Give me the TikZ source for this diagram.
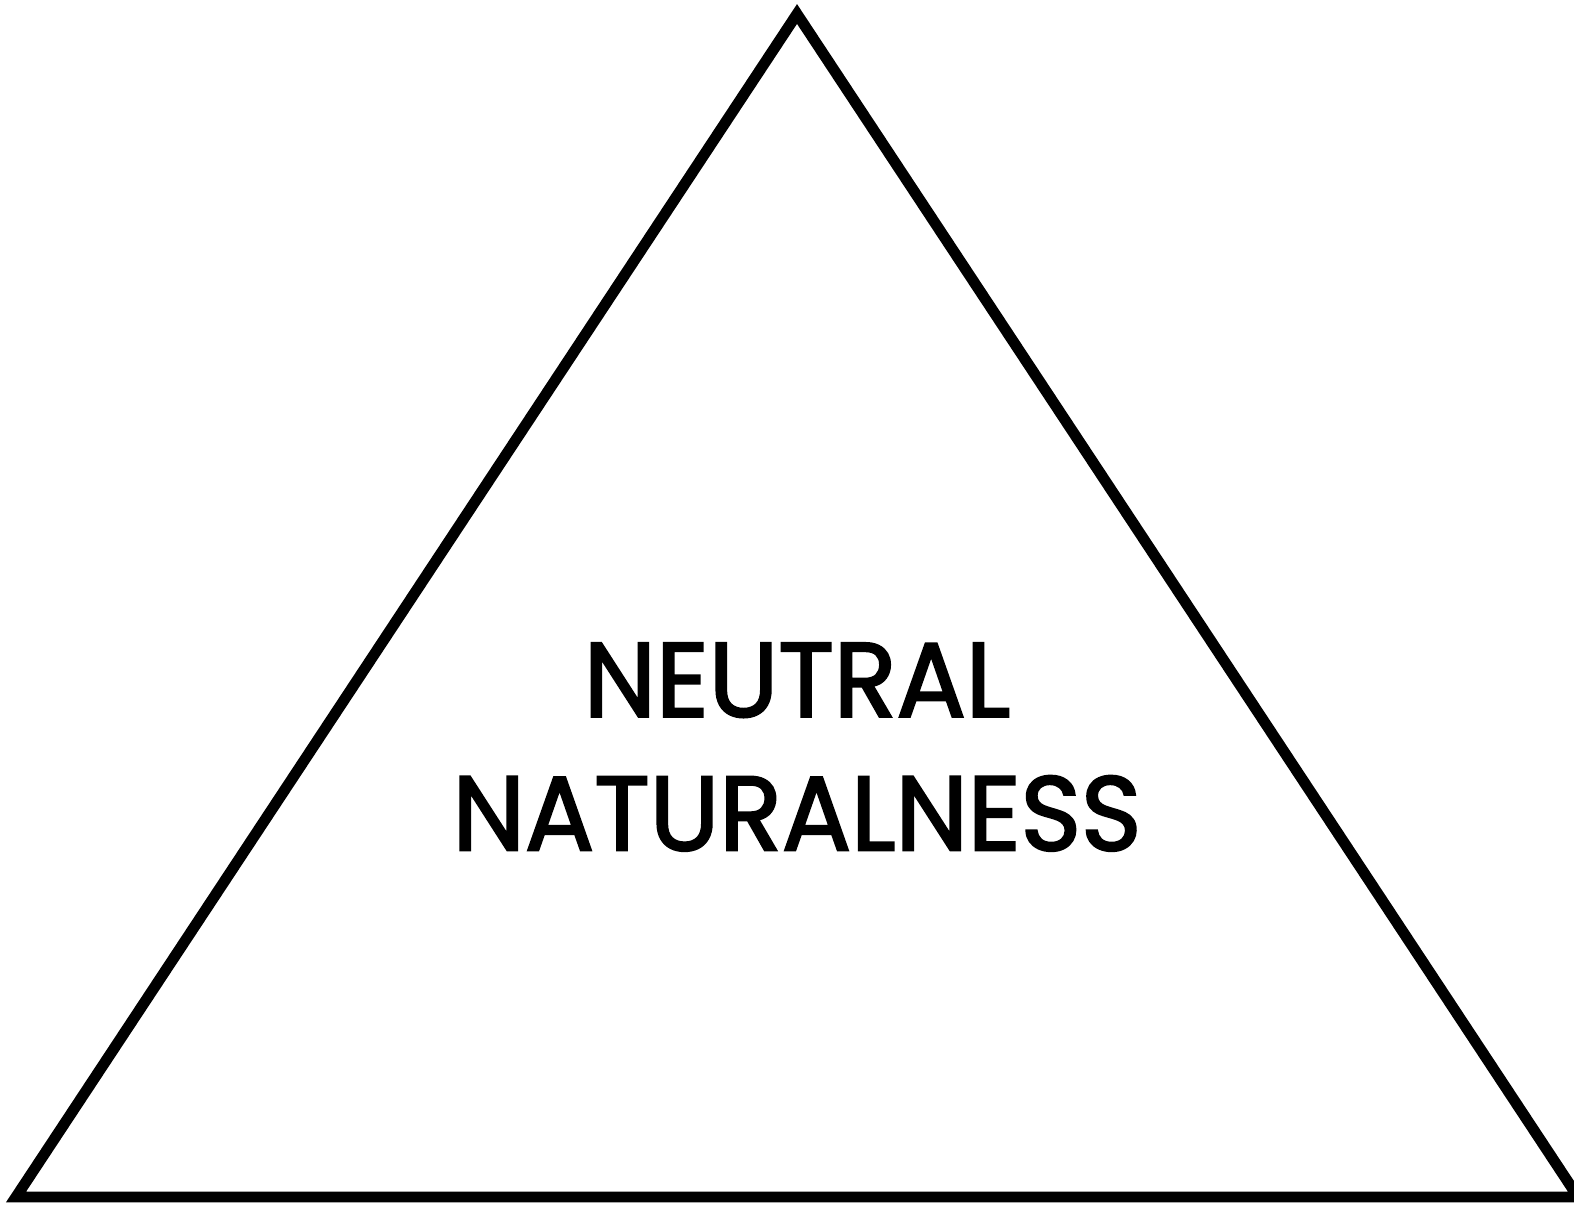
\documentclass[tikz,border=0pt]{standalone}
\usepackage{fontspec}
\newfontfamily\futfont[FakeStretch=0.975,FakeBold=2.2]{Poppins}
\usepackage{tikz}
\usetikzlibrary{positioning}

\begin{document}
\begin{tikzpicture}[
    x=0.01cm,y=-0.01cm,
    edgeline/.style={draw=black, line width=3.1pt, line join=miter},
    lab/.style={font=\futfont\fontsize{30}{38}\selectfont, align=center, inner sep=0pt}
  ]
    \useasboundingbox (0,0) rectangle (1574,1204);
    \coordinate (apex) at (797,14);
    \coordinate (bl) at (16,1197);
    \coordinate (br) at (1578,1197);
    \draw[edgeline] (apex) -- (bl) -- (br) -- cycle;

    \node[lab] (name) at (797,747) {NEUTRAL\\NATURALNESS};
  \end{tikzpicture}
\end{document}
